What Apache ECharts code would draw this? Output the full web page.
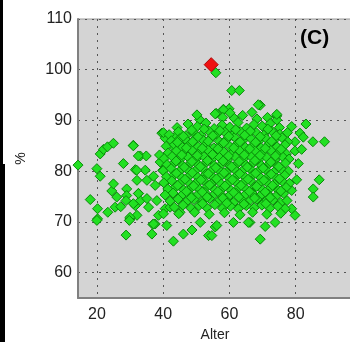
<!DOCTYPE html>
<html>
<head>
<meta charset="utf-8">
<script src="https://cdn.jsdelivr.net/npm/echarts@6/dist/echarts.min.js"></script>
<style>
  html, body { margin: 0; padding: 0; background: #fff; }
  #chart { width: 350px; height: 342px; }
</style>
</head>
<body>
<div id="chart"></div>
<script>
// tick labels
var xTicks = [20, 40, 60, 80];
var yTicks = [60, 70, 80, 90, 100, 110];

// highlighted point (red)
var redPoints = [[54.5, 101.0]];

// sparse points, left side and edges
var sparsePoints = [
  [14.3, 81.2], [20.0, 80.5], [21.0, 79.0], [18.0, 74.4], [20.2, 72.6], [20.2, 70.6],
  [23.3, 71.9], [21.0, 83.4], [22.0, 84.3], [23.2, 84.8], [25.0, 85.5], [24.5, 76.1],
  [25.0, 77.5], [26.0, 74.9], [25.5, 72.9], [27.2, 73.0], [28.0, 81.5], [29.0, 76.5],
  [29.0, 75.2], [28.8, 74.2], [30.0, 70.6], [31.0, 85.1], [31.6, 73.2], [32.1, 71.3],
  [31.6, 80.3], [32.1, 78.2], [33.1, 83.0], [32.6, 75.6], [33.1, 74.2], [34.9, 83.0],
  [34.6, 80.2], [35.1, 78.2], [35.1, 74.6], [35.6, 72.9], [36.9, 69.5], [37.1, 79.0],
  [37.6, 77.2], [38.1, 74.2], [38.6, 71.3], [39.1, 81.8], [39.6, 87.5], [40.6, 86.5],
  [39.9, 80.2], [41.1, 78.2], [41.6, 76.2], [40.6, 72.6], [43.1, 84.8], [43.6, 86.8],
  [40.1, 87.6], [31.0, 85.0], [32.5, 83.0], [38.9, 83.2], [32.0, 80.2], [31.0, 73.6],
  [30.0, 70.9], [32.5, 75.6], [37.6, 69.6], [40.1, 71.6], [42.1, 72.9], [45.1, 71.9],
  [20.0, 70.3], [29.8, 70.3], [37.1, 69.6], [41.1, 69.3],
  // bottom
  [28.8, 67.4], [36.6, 67.6], [43.1, 66.2], [46.1, 67.6], [48.7, 68.4], [53.7, 67.3],
  [54.7, 67.3], [55.7, 69.0], [51.2, 69.9], [61.2, 69.9], [66.2, 69.9], [73.8, 69.9],
  [69.3, 66.6], [70.8, 69.1], [56.2, 69.3], [65.7, 69.9],
  // top
  [55.9, 99.4], [60.7, 95.9], [63.0, 95.9], [69.3, 93.0], [58.2, 92.2], [59.9, 92.3],
  [51.0, 90.2], [56.0, 91.4], [58.2, 92.1], [60.2, 91.5], [68.7, 93.1],
  // right
  [74.3, 90.9], [74.3, 90.1], [78.8, 88.8], [83.1, 89.3], [81.3, 87.5], [82.3, 86.7],
  [85.2, 85.8], [88.7, 85.8], [79.8, 85.8], [79.8, 84.0], [81.8, 84.3], [80.8, 81.5],
  [80.3, 78.3], [87.1, 78.3], [85.3, 76.5], [85.3, 74.9], [79.8, 71.3], [78.8, 72.6],
  [78.8, 76.2]
];

// dense core, read row by row
var densePoints = [
  [50.2, 91.1], [55.7, 91.3], [58.0, 90.6], [61.5, 90.4], [64.0, 91.0], [66.8, 91.6], [68.3, 90.3], [71.5, 90.6], [74.3, 91.2],
  [44.2, 88.6], [47.5, 89.3], [50.3, 88.8], [52.9, 89.5], [55.4, 88.4], [57.8, 89.1], [60.1, 88.7], [62.6, 89.6], [65.2, 88.5], [67.4, 89.2], [69.9, 88.9], [72.3, 89.4], [75.1, 88.6],
  [41.8, 87.2], [44.6, 87.8], [46.9, 87.0], [49.1, 87.6], [51.5, 87.1], [53.8, 87.9], [56.2, 87.3], [58.6, 87.7], [60.9, 87.0], [63.3, 87.8], [65.7, 87.2], [68.1, 87.6], [70.4, 87.1], [72.8, 87.9], [75.2, 87.3], [77.5, 87.6],
  [42.5, 86.0], [45.0, 86.4], [47.3, 85.9], [49.8, 86.5], [52.1, 86.1], [54.5, 86.6], [56.9, 85.9], [59.2, 86.3], [61.6, 86.7], [64.0, 86.0], [66.4, 86.5], [68.8, 85.9], [71.1, 86.4], [73.5, 86.1], [75.9, 86.6], [77.6, 85.8],
  [40.9, 84.9], [43.4, 85.2], [45.8, 84.7], [48.2, 85.4], [50.6, 84.8], [53.0, 85.3], [55.3, 84.6], [57.7, 85.2], [60.1, 84.9], [62.5, 85.5], [64.8, 84.7], [67.2, 85.1], [69.6, 84.6], [72.0, 85.4], [74.4, 84.8], [76.8, 85.2],
  [41.5, 83.6], [44.0, 84.0], [46.3, 83.5], [48.7, 84.1], [51.1, 83.7], [53.5, 84.2], [55.9, 83.5], [58.2, 83.9], [60.6, 83.4], [63.0, 84.1], [65.4, 83.6], [67.7, 84.0], [70.1, 83.5], [72.5, 84.1], [74.9, 83.7], [77.2, 83.4],
  [40.3, 82.5], [42.7, 82.9], [45.1, 82.3], [47.5, 82.8], [49.9, 82.4], [52.3, 82.9], [54.6, 82.3], [57.0, 82.7], [59.4, 82.2], [61.8, 82.8], [64.2, 82.4], [66.5, 82.9], [68.9, 82.3], [71.3, 82.7], [73.7, 82.2], [76.1, 82.8], [78.0, 82.4],
  [41.2, 81.3], [43.5, 81.7], [45.9, 81.1], [48.3, 81.6], [50.7, 81.2], [53.1, 81.8], [55.4, 81.1], [57.8, 81.5], [60.2, 81.0], [62.6, 81.6], [65.0, 81.2], [67.3, 81.7], [69.7, 81.1], [72.1, 81.5], [74.5, 81.0], [76.9, 81.6],
  [40.0, 80.1], [42.4, 80.5], [44.8, 79.9], [47.2, 80.4], [49.6, 80.0], [51.9, 80.6], [54.3, 79.9], [56.7, 80.3], [59.1, 79.8], [61.5, 80.4], [63.8, 80.0], [66.2, 80.5], [68.6, 79.9], [71.0, 80.3], [73.4, 79.8], [75.7, 80.4], [77.8, 80.0],
  [41.0, 78.9], [43.3, 79.3], [45.7, 78.7], [48.1, 79.2], [50.5, 78.8], [52.9, 79.4], [55.2, 78.7], [57.6, 79.1], [60.0, 78.6], [62.4, 79.2], [64.8, 78.8], [67.1, 79.3], [69.5, 78.7], [71.9, 79.1], [74.3, 78.6], [76.7, 79.2],
  [40.2, 77.7], [42.6, 78.1], [45.0, 77.5], [47.4, 78.0], [49.8, 77.6], [52.2, 78.2], [54.5, 77.5], [56.9, 77.9], [59.3, 77.4], [61.7, 78.0], [64.1, 77.6], [66.4, 78.1], [68.8, 77.5], [71.2, 77.9], [73.6, 77.4], [76.0, 78.0], [78.1, 77.6],
  [41.4, 76.5], [43.8, 76.9], [46.2, 76.3], [48.6, 76.8], [51.0, 76.4], [53.3, 77.0], [55.7, 76.3], [58.1, 76.7], [60.5, 76.2], [62.9, 76.8], [65.2, 76.4], [67.6, 76.9], [70.0, 76.3], [72.4, 76.7], [74.8, 76.2], [77.1, 76.8],
  [40.6, 75.3], [43.0, 75.7], [45.4, 75.1], [47.8, 75.6], [50.2, 75.2], [52.6, 75.8], [54.9, 75.1], [57.3, 75.5], [59.7, 75.0], [62.1, 75.6], [64.5, 75.2], [66.8, 75.7], [69.2, 75.1], [71.6, 75.5], [74.0, 75.0], [76.4, 75.6],
  [42.1, 74.1], [44.5, 74.5], [46.9, 73.9], [49.3, 74.4], [51.7, 74.0], [54.0, 74.6], [56.4, 73.9], [58.8, 74.3], [61.2, 73.8], [63.6, 74.4], [65.9, 74.0], [68.3, 74.5], [70.7, 73.9], [73.1, 74.3], [75.5, 73.8], [77.4, 74.2],
  [43.4, 72.9], [46.0, 73.3], [48.4, 72.7], [50.8, 73.2], [53.2, 72.8], [55.6, 73.4], [57.9, 72.7], [60.3, 73.1], [62.7, 72.6], [65.1, 73.2], [67.5, 72.8], [69.8, 73.3], [72.2, 72.7], [74.6, 73.1], [76.8, 72.6],
  [44.7, 71.6], [49.5, 71.9], [53.9, 71.5], [58.5, 71.8], [63.2, 71.4], [67.0, 71.9], [71.3, 71.5], [75.5, 71.7]
];

// extra points filling the centre of the cloud
var corePoints = [
  [48.6, 88.1], [52.4, 88.3], [57.1, 88.0], [61.9, 88.2], [66.3, 87.9], [71.6, 88.3],
  [46.1, 86.9], [50.5, 86.8], [55.0, 87.0], [59.8, 86.9], [64.6, 87.1], [69.3, 86.8], [74.1, 87.0],
  [44.3, 85.7], [48.9, 85.8], [53.6, 85.9], [58.3, 85.6], [63.2, 85.8], [67.9, 85.7], [72.7, 85.9],
  [47.0, 84.6], [51.8, 84.5], [56.5, 84.4], [61.3, 84.6], [66.1, 84.4], [70.8, 84.5], [75.6, 84.3],
  [45.6, 83.2], [50.3, 83.1], [54.9, 83.3], [59.7, 83.0], [64.5, 83.2], [69.2, 83.1], [73.9, 83.0],
  [43.9, 82.0], [48.7, 81.9], [53.4, 82.1], [58.1, 82.0], [62.9, 81.9], [67.7, 82.1], [72.5, 81.8],
  [46.4, 80.8], [51.2, 80.9], [55.9, 80.7], [60.7, 80.9], [65.4, 80.8], [70.2, 80.6], [74.9, 80.9],
  [44.0, 79.6], [48.8, 79.7], [53.6, 79.5], [58.4, 79.7], [63.1, 79.5], [67.9, 79.6], [72.6, 79.4],
  [46.6, 78.4], [51.4, 78.3], [56.1, 78.5], [60.9, 78.3], [65.6, 78.4], [70.4, 78.2], [75.1, 78.5],
  [44.4, 77.2], [49.2, 77.1], [54.0, 77.3], [58.7, 77.1], [63.5, 77.2], [68.2, 77.0], [73.0, 77.2],
  [47.0, 76.0], [51.8, 75.9], [56.5, 76.0], [61.3, 75.8], [66.0, 76.0], [70.8, 75.9], [75.5, 76.1],
  [48.5, 74.8], [53.3, 74.9], [58.0, 74.7], [62.8, 74.9], [67.6, 74.7], [72.3, 74.8],
  [51.9, 73.6], [59.2, 73.7], [64.4, 73.5], [71.0, 73.6]
];

var greenPoints = sparsePoints.concat(densePoints, corePoints);

var chart = echarts.init(document.getElementById('chart'));
var font = 'Liberation Sans, Arial, sans-serif';
var gridLine = { show: true, lineStyle: { color: '#555', type: [2, 5], width: 1 } };

var option = {
  animation: false,
  backgroundColor: '#fff',
  grid: {
    left: 78, right: -2, top: 19, bottom: 44,
    outerBoundsMode: 'none', containLabel: false,
    show: true, backgroundColor: '#d4d4d4', borderColor: '#999', borderWidth: 1
  },
  xAxis: {
    type: 'value', min: 14.3, max: 97,
    name: 'Alter', nameLocation: 'middle', nameGap: 30,
    nameTextStyle: { color: '#222', fontSize: 14, fontFamily: font },
    axisLine: { show: true, lineStyle: { color: '#808080', width: 2 } },
    axisTick: { show: false, customValues: xTicks },
    axisLabel: { customValues: xTicks, color: '#222', fontSize: 16, fontFamily: font, margin: 9 },
    splitLine: gridLine
  },
  yAxis: {
    type: 'value', min: 55, max: 110,
    name: '%', nameLocation: 'middle', nameGap: 50,
    nameTextStyle: { color: '#222', fontSize: 14, fontFamily: font },
    axisLine: { show: true, lineStyle: { color: '#808080', width: 2 } },
    axisTick: { show: false, customValues: yTicks },
    axisLabel: { customValues: yTicks, color: '#222', fontSize: 16, fontFamily: font, margin: 6 },
    splitLine: gridLine
  },
  graphic: [
    { type: 'rect', left: 0, top: 0, shape: { width: 3, height: 164 }, style: { fill: '#000' } },
    { type: 'rect', left: 0, top: 164, shape: { width: 5, height: 178 }, style: { fill: '#000' } },
    { type: 'text', left: 300, top: 28, z: 100,
      style: { text: '(C)', fill: '#000', font: 'bold 21px Liberation Sans, Arial, sans-serif' } }
  ],
  series: [
    {
      type: 'scatter', symbol: 'diamond', symbolSize: 10, data: greenPoints, z: 2,
      itemStyle: { color: '#22e022', borderColor: '#0a8a0a', borderWidth: 1, opacity: 1 }
    },
    {
      type: 'scatter', symbol: 'diamond', symbolSize: 14, data: redPoints, z: 3,
      itemStyle: { color: '#ee1111', borderColor: '#b00000', borderWidth: 1, opacity: 1 }
    }
  ]
};
chart.setOption(option);
</script>
</body>
</html>
